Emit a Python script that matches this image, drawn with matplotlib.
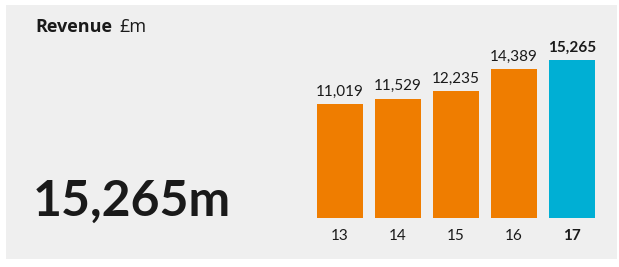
import matplotlib
matplotlib.use("Agg")
import matplotlib.pyplot as plt
from matplotlib.patches import Rectangle

years = ["13", "14", "15", "16", "17"]
revenue = [11019, 11529, 12235, 14389, 15265]
value_labels = ["11,019", "11,529", "12,235", "14,389", "15,265"]
headline = "15,265m"

ORANGE = "#ef7d00"
BLUE = "#00afd4"
TEXT = "#1a1a1a"
BG = "#efefef"

plt.rcParams['font.family'] = ['Lato', 'DejaVu Sans']

W, H = 619, 267
fig = plt.figure(figsize=(W / 100, H / 100), dpi=100)
fig.patch.set_facecolor("white")

# gray panel
fig.patches.append(Rectangle((6 / W, 1 - 259 / H), (617 - 6) / W, (259 - 5) / H,
                             transform=fig.transFigure, facecolor=BG, edgecolor="none", zorder=-10))

fig.text(35 / W, 1 - 27 / H, "Revenue", fontsize=13, fontweight="bold", color=TEXT,
         va="center", ha="left", family="Open Sans")
fig.text(119 / W, 1 - 27 / H, "£m", fontsize=13, color=TEXT, va="center", ha="left", family="Open Sans")
fig.text(33 / W, 1 - 201 / H, headline, fontsize=36, fontweight="bold", color=TEXT, va="center", ha="left")

ax_left = 311 / W
ax_w = 290 / W
ax_bottom = 1 - 218 / H
ymax = 17000
ax_h = ymax * 0.01035 / H
ax = fig.add_axes([ax_left, ax_bottom, ax_w, ax_h], zorder=5)
ax.set_facecolor("none")
x = list(range(len(years)))
colors = [ORANGE] * (len(years) - 1) + [BLUE]
ax.bar(x, revenue, width=0.776, color=colors, edgecolor="none")
ax.set_xlim(-0.5, len(years) - 0.5)
ax.set_ylim(0, ymax)
for s in ax.spines.values():
    s.set_visible(False)
ax.set_yticks([])
ax.set_xticks(x)
ax.set_xticklabels(years, fontsize=11, color=TEXT)
ax.tick_params(axis="x", length=0, pad=8)
ax.get_xticklabels()[-1].set_fontweight("bold")

for i, (v, lab) in enumerate(zip(revenue, value_labels)):
    last = i == len(years) - 1
    ax.annotate(lab, (i, v), xytext=(0, 4), textcoords="offset points",
                ha="center", va="bottom", fontsize=11, color=TEXT,
                fontweight="bold" if last else "normal")

fig.savefig("out.png", dpi=100, facecolor=fig.get_facecolor())
